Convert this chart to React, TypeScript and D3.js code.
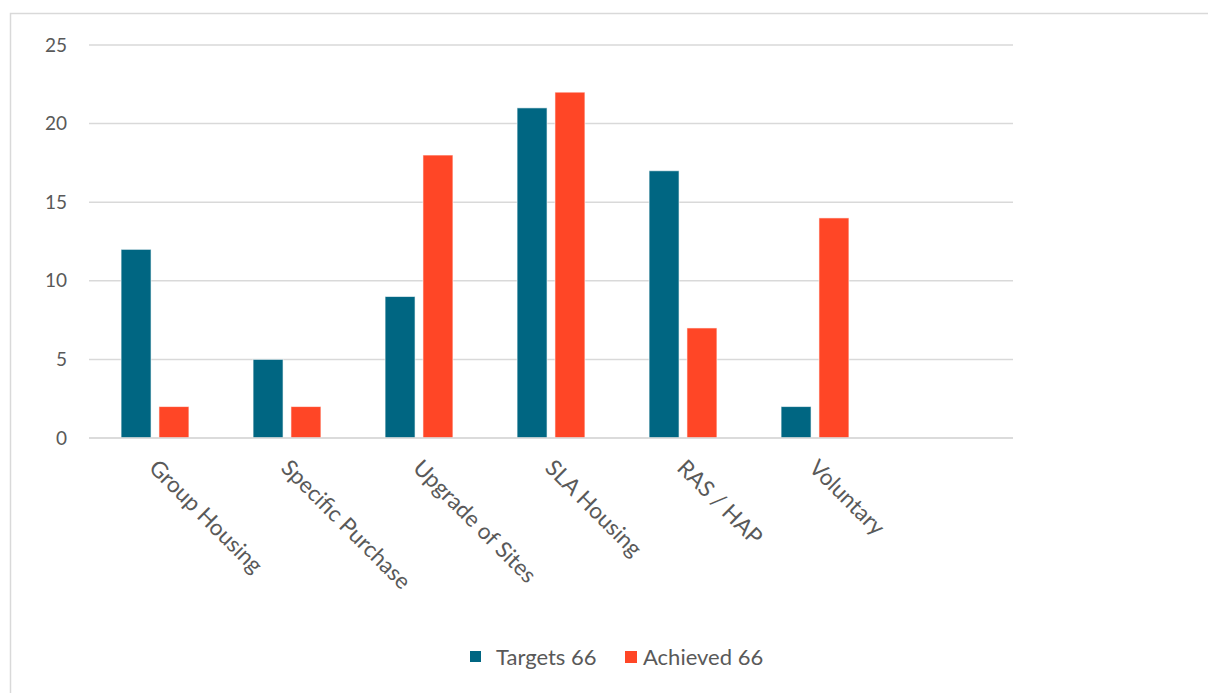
import React from "react";
import * as d3 from "d3";

const categories = ["Group Housing", "Specific Purchase", "Upgrade of Sites", "SLA Housing", "RAS / HAP", "Voluntary", ""];
const targets = [12, 5, 9, 21, 17, 2, null];
const achieved = [2, 2, 18, 22, 7, 14, null];
const seriesNames = ["Targets 66", "Achieved 66"];
const seriesColors = ["#006682", "#FF4626"];
const yTicks = [0, 5, 10, 15, 20, 25];

const W = 1208, H = 693;
const left = 89, right = 1013, top = 45, bottom = 438;
const font = "Lato, 'Open Sans', sans-serif";

export default function App() {
  const x = d3.scaleBand<string>().domain(categories.map((c, i) => String(i))).range([left, right]);
  const y = d3.scaleLinear().domain([0, 25]).range([bottom, top]);
  const slot = x.bandwidth();
  const barW = slot * 0.227;
  const gap = slot * 0.06;
  const series = [targets, achieved];
  return (
    <svg width={W} height={H} style={{ position: "absolute", left: 0, top: 0, background: "#fff" }}>
      <rect x={10.5} y={13.5} width={W + 10} height={H + 10} fill="none" stroke="#d9d9d9" strokeWidth={1.5} />
      {yTicks.map((t) => (
        <g key={t}>
          <line x1={left} x2={right} y1={y(t)} y2={y(t)} stroke="#d9d9d9" strokeWidth={1.5} />
          <text x={67} y={y(t)} dy="0.35em" textAnchor="end" fontFamily={font} fontSize={19} fill="#595959">{t}</text>
        </g>
      ))}
      {categories.map((c, i) => {
        const cx = (x(String(i)) as number) + slot / 2;
        return (
          <g key={i}>
            {series.map((s, k) => {
              const v = s[i];
              if (v == null) return null;
              const bx = k === 0 ? cx - gap / 2 - barW : cx + gap / 2;
              return (
                <rect key={k} x={bx} y={y(v)} width={barW} height={bottom - y(v)} fill={seriesColors[k]} stroke="#fff" strokeOpacity={0.6} strokeWidth={1} />
              );
            })}
            {c && (
              <text transform={`translate(${cx + 4},${458}) rotate(45)`} fontFamily={font} fontSize={22.5} fill="#595959" dy="0.7em">{c}</text>
            )}
          </g>
        );
      })}
      <line x1={left} x2={right} y1={bottom} y2={bottom} stroke="#d9d9d9" strokeWidth={1.5} />
      <g>
        <rect x={470} y={651} width={11} height={11} fill={seriesColors[0]} />
        <text x={496} y={657} dy="0.35em" fontFamily={font} fontSize={22} fill="#595959">{seriesNames[0]}</text>
        <rect x={625} y={651} width={12} height={12} fill={seriesColors[1]} />
        <text x={643} y={657} dy="0.35em" fontFamily={font} fontSize={22} fill="#595959">{seriesNames[1]}</text>
      </g>
    </svg>
  );
}
